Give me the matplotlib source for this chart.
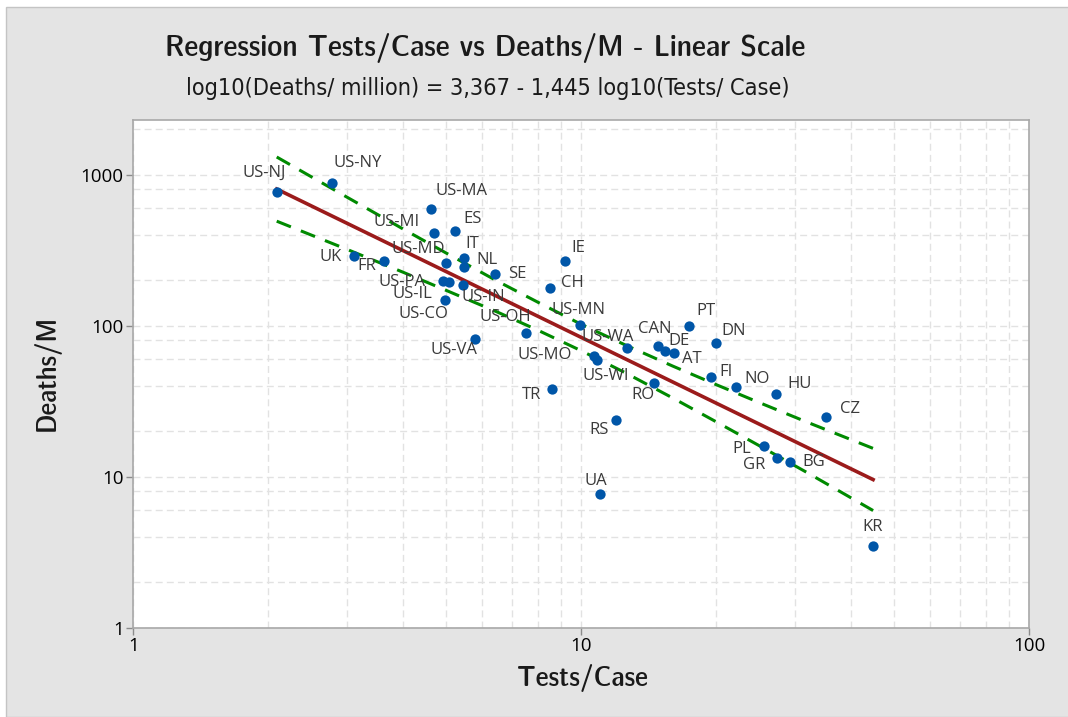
import numpy as np
import matplotlib
matplotlib.use("Agg")
import matplotlib.pyplot as plt
from matplotlib import font_manager as fm
from matplotlib.patches import Rectangle
from matplotlib.ticker import LogLocator, NullFormatter, FixedLocator, FixedFormatter

# data
countries = ['US-NJ', 'US-NY', 'US-MA', 'US-MI', 'ES', 'IT', 'NL', 'US-MD', 'UK', 'FR',
             'SE', 'US-PA', 'US-IL', 'US-IN', 'US-CO', 'US-VA', 'US-OH', 'IE', 'CH', 'US-MN',
             'US-WA', 'US-MO', 'US-WI', 'TR', 'RS', 'UA', 'CAN', 'DE', 'AT', 'PT',
             'DN', 'RO', 'FI', 'NO', 'HU', 'CZ', 'PL', 'GR', 'BG', 'KR']
tests_per_case = [2.09, 2.77, 4.63, 4.69, 5.23, 5.48, 5.47, 5.00, 3.11, 3.63,
                  6.42, 4.91, 5.07, 5.44, 4.96, 5.79, 7.52, 9.18, 8.50, 9.92,
                  12.65, 10.7, 10.84, 8.60, 11.97, 11.0, 14.8, 15.4, 16.1, 17.4,
                  20.0, 14.5, 19.5, 22.1, 27.2, 35.1, 25.6, 27.4, 29.2, 44.8]
deaths_per_m = [768, 881, 593, 413, 424, 279, 244, 261, 288, 267,
                220, 197, 196, 185, 148, 82, 89.9, 269, 178, 101,
                70.8, 63, 59.3, 38.3, 23.7, 7.68, 73.4, 68.3, 65.7, 99,
                77.2, 41.9, 45.5, 39.1, 35.5, 24.7, 15.9, 13.4, 12.5, 3.49]

# fitted line and confidence band
fit_x = [2.09, 44.8]
fit_y = [803, 9.57]
band_x = [2.09, 3, 4, 5, 6.5, 8, 10, 12.5, 16, 20, 25, 32, 44.8]
band_upper = [1309, 709, 437, 302, 197, 143, 102, 74.8, 54.0, 40.7, 30.9, 22.9, 15.4]
band_lower = [492, 320, 226, 171, 123, 93.3, 68.2, 49.0, 33.2, 23.1, 16.0, 10.6, 5.97]

y_ticks = [1, 10, 100, 1000]
x_ticks = [1, 10, 100]

# label offsets (pixels) from each dot
label_offsets = {
    'US-NJ': (-13, 19), 'US-NY': (26, 20), 'US-MA': (30, 18), 'US-MI': (-37, 11),
    'ES': (17, 12), 'IT': (8, 14), 'NL': (23, 7), 'US-MD': (-28, 14), 'UK': (-23, -1),
    'FR': (-17, -5), 'SE': (22, 0), 'US-PA': (-41, -1), 'US-IL': (-37, -12),
    'US-IN': (20, -12), 'US-CO': (-21, -14), 'US-VA': (-21, -11), 'US-OH': (-21, 16),
    'IE': (14, 13), 'CH': (23, 5), 'US-MN': (-1, 15), 'US-WA': (-19, 11),
    'US-MO': (-50, 1), 'US-WI': (9, -16), 'TR': (-20, -6), 'RS': (-17, -10),
    'UA': (-4, 13), 'CAN': (-3, 17), 'DE': (14, 10), 'AT': (18, -6), 'PT': (17, 15),
    'DN': (17, 12), 'RO': (-11, -12), 'FI': (15, 5), 'NO': (21, 8), 'HU': (24, 10),
    'CZ': (24, 8), 'PL': (-22, -3), 'GR': (-23, -7), 'BG': (24, 0), 'KR': (0, 19),
}

names = {f.name for f in fm.fontManager.ttflist}
body = 'Open Sans' if 'Open Sans' in names else 'DejaVu Sans'
plt.rcParams['font.family'] = [body, 'DejaVu Sans']


def condensed_font(want_weight):
    # look for any installed narrow/condensed face
    best, best_d = None, None
    for f in fm.fontManager.ttflist:
        key = (f.name + ' ' + f.fname).lower()
        narrowish = ('condensed' in key or 'narrow' in key or
                     str(f.stretch) in ('condensed', 'semi-condensed', 'extra-condensed'))
        if not narrowish or 'italic' in key or 'oblique' in key or f.style != 'normal':
            continue
        if 'extra' in key or 'ultra' in key or 'semicondensed' in key or 'semi' in key:
            continue
        w = f.weight if isinstance(f.weight, (int, float)) else 400
        d = abs(w - want_weight)
        if best is None or d < best_d:
            best, best_d = f, d
    if best is None:
        return None
    return fm.FontProperties(fname=best.fname)


cond_bold = condensed_font(600)
cond_reg = condensed_font(400)
scale = 1.0
if cond_bold is None:
    cond_bold = fm.FontProperties(family=body, weight='semibold')
    cond_reg = fm.FontProperties(family=body)
    scale = 0.8

fig = plt.figure(figsize=(10.68, 7.17), dpi=100, facecolor='white')
fig.patches.append(Rectangle((6 / 1068, 0), 1, 1 - 7 / 717, transform=fig.transFigure,
                             facecolor='#e4e4e4', edgecolor='#c4c4c4', lw=1, zorder=-10))

ax = fig.add_axes([0.1248, 0.1245, 0.9638 - 0.1248, 0.8326 - 0.1245])
ax.set_facecolor('white')
ax.set_xscale('log')
ax.set_yscale('log')
ax.set_xlim(1, 100)
ax.set_ylim(1, 2300)

ax.xaxis.set_major_locator(FixedLocator(x_ticks))
ax.xaxis.set_major_formatter(FixedFormatter([str(t) for t in x_ticks]))
ax.yaxis.set_major_locator(FixedLocator(y_ticks))
ax.yaxis.set_major_formatter(FixedFormatter([str(t) for t in y_ticks]))
ax.xaxis.set_minor_locator(LogLocator(base=10, subs=np.arange(2, 10)))
ax.yaxis.set_minor_locator(LogLocator(base=10, subs=[2, 4, 6, 8]))
ax.xaxis.set_minor_formatter(NullFormatter())
ax.yaxis.set_minor_formatter(NullFormatter())
ax.tick_params(which='minor', length=0)
ax.tick_params(which='major', length=5, width=1, color='#8c8c8c', direction='out',
               labelsize=13.5, pad=2)
ax.grid(which='both', color='#e2e2e2', linestyle=(0, (5, 3)), linewidth=1)
ax.set_axisbelow(True)
for s in ax.spines.values():
    s.set_color('#a8a8a8')
    s.set_linewidth(1.2)

ax.plot(band_x, band_upper, color='#008a00', lw=2.2, ls=(0, (5, 3.5)), zorder=3)
ax.plot(band_x, band_lower, color='#008a00', lw=2.2, ls=(0, (5, 3.5)), zorder=3)
ax.plot(fit_x, fit_y, color='#9b1b1b', lw=2.6, zorder=4)
ax.scatter(tests_per_case, deaths_per_m, s=55, color='#0056a8', zorder=5, linewidths=0)

for name, xv, yv in zip(countries, tests_per_case, deaths_per_m):
    dx, dy = label_offsets[name]
    ax.annotate(name, (xv, yv), xytext=(dx, dy), textcoords='offset pixels',
                ha='center', va='center', fontsize=12, color='#3a3a3a', zorder=6)

fig.text(485 / 1068, 1 - 48 / 717, 'Regression Tests/Case vs Deaths/M - Linear Scale',
         ha='center', va='center', fontproperties=cond_bold, fontsize=22.7 * scale, color='#1a1a1a')
fig.text(488 / 1068, 1 - 89 / 717, 'log10(Deaths/ million) = 3,367 - 1,445 log10(Tests/ Case)',
         ha='center', va='center', fontproperties=cond_reg, fontsize=16.8 * scale, color='#1a1a1a')
fig.text(582 / 1068, 1 - 678 / 717, 'Tests/Case', ha='center', va='center',
         fontproperties=cond_bold, fontsize=21 * scale, color='#1a1a1a')
fig.text(47 / 1068, 1 - 373 / 717, 'Deaths/M', ha='center', va='center', rotation=90,
         fontproperties=cond_bold, fontsize=20.5 * scale, color='#1a1a1a')

fig.savefig('out.png', dpi=100, facecolor=fig.get_facecolor())
